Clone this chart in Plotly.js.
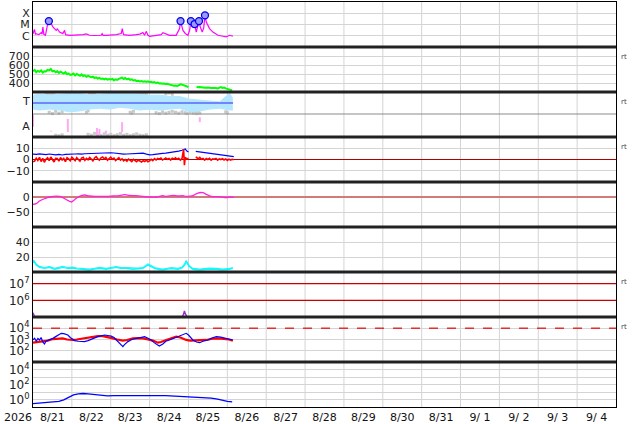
<!DOCTYPE html>
<html><head><meta charset="utf-8">
<script src="https://cdn.plot.ly/plotly-3.0.1.min.js"></script>
<style>html,body{margin:0;padding:0;background:#fff}#c{width:634px;height:424px}</style>
</head><body><div id="c"></div>
<script>
// ---- data (hours since 2026-08-21 00:00) ----
const dayLabels=['8/21','8/22','8/23','8/24','8/25','8/26','8/27','8/28','8/29','8/30','8/31','9/ 1','9/ 2','9/ 3','9/ 4'];
const xrH=[0,0.9,1.5,2.0,3.6,5.0,5.6,6.1,6.7,7.7,9.0,9.8,11,12.3,14.3,15,16.4,18.4,19.5,20.1,22.6,26,28.7,31,32.9,34.9,38,42.1,42.7,43.3,45.2,48,51.4,54.5,55.1,55.9,59.6,63.7,66,67.9,68.9,69.9,71.0,72.0,76,79.2,80.2,82,84.3,88.4,90.5,91.1,92.0,92.6,94,95.7,96.7,97.5,98.3,99.8,100.8,101.8,102.5,103.3,104.5,105.4,106.2,107.0,109.0,111.1,114.2,117.3,119.3,121.4,123.4];
const xrFlux=[1.5e-6,3.7e-6,1.4e-6,1.5e-6,1.26e-6,1.9e-6,1.4e-6,6.0e-6,1.35e-6,1.1e-6,1.0e-5,2.0e-5,1.4e-5,6.0e-6,3.0e-6,4.0e-6,2.1e-6,1.55e-6,3.0e-6,1.26e-6,1.1e-6,1.1e-6,1.1e-6,1.26e-6,1.45e-6,1.1e-6,1.05e-6,1.1e-6,1.55e-6,1.1e-6,1.1e-6,1.15e-6,1.26e-6,1.55e-6,4.3e-6,1.26e-6,1.1e-6,1.26e-6,1.4e-6,1.9e-6,1.1e-6,2.45e-6,1.1e-6,9e-7,1e-6,1.26e-6,1.9e-6,1.4e-6,1.1e-6,1.1e-6,4.3e-6,2.0e-5,6.3e-6,3.0e-6,1.6e-6,1.1e-6,3.0e-6,2.0e-5,6.0e-6,1.1e-5,2.1e-6,1.0e-5,2.0e-5,6.0e-6,2.1e-6,5e-6,6.5e-5,1.65e-5,4.3e-6,2.1e-6,1.1e-6,9e-7,7.8e-7,1.1e-6,9e-7];
const flareH=[9.8,91.1,97.5,99.8,102.5,106.2];
const flareFlux=[2.0e-5,2.0e-5,2.0e-5,1.1e-5,2.0e-5,6.5e-5];
const xrTickText=['X','M','C'];
const xrTickVals=[1e-4,1e-5,1e-6];

const swH=[0,1,2,3,4,5,6,7,8,9,10,11,12,13,14,15,16,17,18,19,20,21,22,23,24,25,26,27,28,29,30,31,32,33,34,35,36,37,38,39,40,41,42,43,44,45,46,47,48,49,50,51,52,53,54,55,56,57,58,59,60,61,62,63,64,65,66,67,68,69,70,71,72,73,74,75,76,77,78,79,80,81,82,83,84,85,86,87,88,89,90,91,92,93,94,95,96,98,101,102,103,104,105,106,107,108,109,110,111,112,113,114,115,116,117,118,119,120,121,122,123];
const swSpeed=[530,545,520,535,525,540,515,530,528,545,540,555,530,535,520,530,512,525,515,505,520,500,505,490,495,505,485,500,490,480,495,478,485,470,480,475,465,470,455,462,450,458,445,450,440,448,438,445,440,445,430,440,435,445,450,460,445,455,440,448,435,440,428,432,420,425,418,422,415,420,412,418,410,414,405,410,400,405,395,398,392,395,388,392,385,380,372,370,372,368,375,385,382,376,372,360,355,null,358,352,355,350,352,348,350,345,348,344,346,342,345,340,350,355,345,350,340,335,328,322,318];

const tLevel=0.756;
const tbH=[0,4,10.2,16.4,22.6,28.7,34.9,41,47.3,53.4,59.6,65.8,72,78.2,84.3,90.5,96.7,102.9,109,115.2,121.4,123.4];
const tbUpper=[0.93,0.95,0.93,0.95,0.97,0.97,0.93,0.95,0.97,0.99,0.99,0.95,0.93,0.93,0.90,0.90,0.84,0.82,0.80,0.78,0.97,0.85];
const tbLower=[0.62,0.60,0.62,0.60,0.56,0.58,0.62,0.64,0.62,0.66,0.64,0.60,0.62,0.60,0.62,0.64,0.56,0.58,0.62,0.64,0.60,0.60];
const grayH=[8,9,10,11,12,13,10,12,14,16,18,33,34,35,36,37,38,47,48,49,50,60,61,62,63,64,65,66,67,68,69,70,76,78,80,82,84,86,82,84,86,88,90,92,94,95,97,99,100,101,102,103,119,120];
const grayV=[0.98,0.96,0.99,0.95,0.97,0.94,0.55,0.52,0.57,0.53,0.56,0.55,0.58,0.97,0.99,0.96,0.98,0.98,0.95,0.99,0.97,0.55,0.53,0.57,0.98,0.96,0.99,0.97,0.95,0.99,0.97,0.96,0.54,0.52,0.56,0.53,0.55,0.57,0.96,0.98,0.95,0.55,0.53,0.56,0.54,0.52,0.55,0.53,0.57,0.52,0.55,0.53,0.56,0.54];
const aPinkH=[0,0,null,11.2,11.2,null,21.5,21.5,null,39.5,39.5,null,41,41,null,45,45,null,55,55,null,103,103];
const aPinkV=[0.49,0.22,null,0.14,0.12,null,0.40,0.11,null,0.20,0.02,null,0.18,0.05,null,0.14,0.08,null,0.33,0.11,null,0.44,0.33];
const aGrayH=[14,16,18,34,36,38,40,42,44,46,48,50,52,54,56,58,60,62,64,66,68,70];
const aGrayV=[0.04,0.03,0.05,0.06,0.04,0.08,0.05,0.03,0.07,0.04,0.06,0.03,0.05,0.08,0.04,0.06,0.03,0.05,0.07,0.04,0.03,0.05];

const btH=[0,2,4,6,8,10,12,14,16,18,20,22,24,26,28,30,32,34,36,38,40,42,44,46,48,50,52,54,56,58,60,62,64,66,68,70,72,74,76,78,80,82,84,86,88,90,92,93,94,95,96,97,100.5,102,104,106,108,110,112,114,116,118,120,122,124];
const btVal=[4.8,4.5,5.0,4.6,4.4,4.9,4.5,4.2,4.6,4.0,4.5,4.8,4.6,4.9,5.0,4.7,5.1,5.3,5.0,5.4,5.6,5.8,6.2,6.4,6.0,5.8,5.4,5.0,4.8,4.9,5.0,5.3,5.2,5.4,5.6,4.8,4.1,4.4,4.9,5.2,5.5,5.6,6.0,6.3,6.8,7.5,8.2,8.8,9.3,7.5,6.8,null,7.3,7.0,6.4,6.0,5.7,5.3,4.9,4.5,4.0,3.5,3.0,2.6,2.5];
const bzH=[0,1,2,3,4,5,6,7,8,9,10,11,12,13,14,15,16,17,18,19,20,21,22,23,24,25,26,27,28,29,30,31,32,33,34,35,36,37,38,39,40,41,42,43,44,45,46,47,48,49,50,51,52,53,54,55,56,57,58,59,60,61,62,63,64,65,66,67,68,69,70,71,72,73,74,75,76,77,78,79,80,81,82,83,84,85,86,87,88,89,90,91,92,93,93.5,94,95,96,97,100.5,101,102,103,104,105,106,107,108,109,110,111,112,113,114,115,116,117,118,119,120,121,122,123,124];
const bzVal=[-2.0,-1.5,1.2,-0.8,2.0,-1.8,1.0,-2.5,0.3,1.5,-1.0,2.2,0.0,-2.2,1.0,0.8,-1.5,1.8,-0.5,1.0,-2.0,1.5,0.5,-1.2,2.0,0.8,-1.0,1.6,0.2,-1.5,1.2,2.0,-0.8,1.0,-0.2,1.8,0.5,-1.2,1.4,2.5,0.6,-0.5,1.5,2.2,0.5,1.8,-0.6,1.0,2.0,0.2,1.2,-1.0,0.8,1.6,-0.5,0.6,-1.2,0.0,-1.6,0.4,-0.8,-1.8,0.2,-1.0,-2.0,-0.5,-1.5,-2.2,-1.0,-1.8,-0.6,-2.0,-1.2,0.2,-1.0,0.8,-0.4,1.0,0.2,1.2,-0.5,0.8,1.4,0.2,1.0,-0.5,1.2,0.4,1.5,0.2,1.0,-0.6,0.8,9.0,-5.0,2.0,0.5,1.0,null,1.5,2.0,0.5,1.8,0.2,1.0,-0.5,0.8,0.0,1.0,-0.6,0.5,0.2,1.0,-0.5,0.6,0.0,0.8,-0.4,0.5,-0.8,0.3,-0.5,0.2,-0.3];

const dstH=[0,2,4,7.1,10.2,16.4,18.4,21.5,23.6,25.6,28.7,31.8,34.9,39,45.2,49.3,53.4,56.5,59.6,63.7,67.9,72,76.1,80.2,82.3,86.4,89.5,92.6,94.6,98.7,101.8,104.9,107,110.1,115.2,119.3,121.4,123.9];
const dstVal=[-24.5,-22.3,-13.4,-5.6,0,2.2,-2.3,-11.2,-16.7,-8.9,2.2,6.6,3.3,2.2,2.2,3.3,4.4,7.7,5.5,4.4,2.2,0,0,4.4,2.2,5.5,3.3,4.4,2.2,4.4,13.3,14.4,8.8,2.2,1.1,-2.3,0,-1];

const cyH=[0,0.3,2,4,7.1,10.2,13.3,16,18.4,21.5,24.6,27,30.7,34.9,38,41,45.2,48,51.4,54,57.6,61.7,65,67.9,71,73,75.1,78,80.2,83,85.4,89.5,92,93.6,94.6,96.3,98.7,102.9,106,109,113.2,117.3,121.4,123.4];
const cyA=[12,15,9.3,6.2,4.9,6.2,3.6,5.0,6.2,4.9,5.3,4.2,3.6,2.7,3.8,4.9,3.6,4.4,6.2,5.0,4.9,3.6,4.0,4.9,9.3,7.5,4.9,3.4,2.7,3.8,4.5,3.6,5.5,9.3,13.8,7.5,3.6,2.7,3.5,4.0,3.6,2.7,3.6,4.9];
const cyB=[13,16,10.5,7.4,6.0,7.3,4.8,6.1,7.4,6.0,6.5,5.3,4.8,3.9,4.9,6.1,4.8,5.5,7.3,6.2,6.0,4.8,5.1,6.0,10.6,8.7,6.0,4.5,3.9,4.9,5.7,4.8,6.6,10.4,15.2,8.8,4.8,3.9,4.6,5.2,4.8,3.9,4.8,6.0];

const peH=[0,0.5,1,2,4,6,8,10,12,14,16,20,24,28,32,36,40,44,48,52,56,60,64,68,70,71,72,73,74,76,80,84,88,90,92,93,93.5,94,95,96,100,104,108,112,116,120,123];
const peFlux=[1.8e5,1.3e5,9e4,6e4,5e4,4e4,3e4,3e4,2.5e4,2e4,2e4,1.5e4,1.5e4,2e4,2e4,2.5e4,3e4,3e4,3.5e4,4e4,4e4,5e4,5e4,6e4,8e4,1.04e5,1.08e5,9e4,7e4,6e4,5e4,5e4,6e4,7e4,9e4,1.5e5,2.3e5,1.6e5,9e4,7e4,5e4,4e4,3.5e4,3e4,3e4,3e4,3e4];
const peThresholds=[1e7,1e6];

const p8H_b=[0,1,2,3,4,5,6,7.1,8,10,12.3,14,16,17.4,19,21.5,23,25.6,28,31.8,34,36.9,40,44.2,46,48.3,50,52.4,54,55.5,56.5,58.6,61,63.7,66,68.9,71,73,75,77.1,78,80.2,82,84.3,87,89.5,92,94.6,96,98.7,101,102.9,105,108,110,113.2,116,119.3,121,123.4];
const p8Blue=[910,1300,700,1260,900,1500,600,400,700,900,1260,1800,2800,3550,3300,2500,1500,800,700,650,800,1260,1800,2500,2300,2000,1500,650,400,230,350,650,1000,1260,1600,1780,1300,910,500,320,260,400,700,910,1300,1780,2500,3550,2500,910,600,520,700,910,1300,1780,1600,1260,1100,910];
const p8H_r=[0,3,6.1,9,12.3,15,18.4,21,24.6,27,30.7,34,36.9,40,43.1,46,49.3,52,55.5,58,61.7,65,67.9,71,74.1,77.1,79,82.3,85,88.4,91,94.6,97,100.8,104,107,110,113.2,116,119.3,121,123.4];
const p8Red=[520,600,650,800,1100,1200,1260,1000,910,1000,1260,1500,1780,2000,2000,1700,1260,1000,800,900,1260,1300,1260,1000,800,520,600,910,1300,1780,1500,910,800,800,850,910,1100,1260,1200,1100,1000,800];
const p8Threshold=[1e4];

const p9H=[0,4,8,12,16,19,21,23,25,28,31,34,38,42,46,50,54,58,62,66,70,74,78,82,86,90,94,98,102,106,110,114,117,120,123];
const p9Val=[0.28,0.32,0.35,0.42,0.56,0.89,1.6,2.8,4.2,5.6,6.3,5.6,4.5,3.5,3.0,3.2,3.3,3.5,3.6,3.5,3.6,3.5,3.3,3.2,2.95,2.6,2.4,2.3,2.1,2.0,1.5,1.1,0.71,0.56,0.47];

// ---- helpers ----
const T0=Date.UTC(2026,7,21);
const d=h=>h===null?null:new Date(T0+h*3600000).toISOString().slice(0,19).replace('T',' ');
const D=a=>a.map(d);
const RANGE=['2026-08-21','2026-09-05'];
const N=9;
const ax=i=>i===0?'':String(i+1);
const FONT='DejaVu Sans';
const GRID='#d4d4d4';
const noonVals=dayLabels.map((_,k)=>d(24*k+12));

const traces=[];
function add(i,o){traces.push(Object.assign({xaxis:'x'+ax(i),yaxis:'y'+ax(i),showlegend:false,hoverinfo:'skip',type:'scatter'},o));}

add(0,{x:D(xrH),y:xrFlux,mode:'lines',line:{color:'#ff00ff',width:1.2}});
add(0,{x:D(flareH),y:flareFlux,mode:'markers',marker:{symbol:'circle',size:7,color:'#9a9aff',line:{color:'#0000ee',width:1.3}}});
add(1,{x:D(swH),y:swSpeed,mode:'lines',line:{color:'#00ff00',width:2},connectgaps:false});
add(2,{x:D(grayH),y:grayV,mode:'markers',marker:{symbol:'square',size:3,color:'#c8c8c8'}});
add(2,{x:D(tbH),y:tbLower,mode:'lines',line:{color:'#b4e6ff',width:1}});
add(2,{x:D(tbH),y:tbUpper,mode:'lines',line:{color:'#b4e6ff',width:1},fill:'tonexty',fillcolor:'#b4e6ff'});
add(2,{x:D([0,123.5]),y:[tLevel,tLevel],mode:'lines',line:{color:'#5a66ff',width:1.5}});
add(2,{x:RANGE,y:[0.511,0.511],mode:'lines',line:{color:'#8a8a8a',width:1}});
add(2,{x:D(aGrayH),y:aGrayV,mode:'markers',marker:{symbol:'square',size:3,color:'#cccccc'}});
add(2,{x:D(aPinkH),y:aPinkV,mode:'lines',line:{color:'#ffaaee',width:2},connectgaps:false});
add(3,{x:D(btH),y:btVal,mode:'lines',line:{color:'#0000ff',width:1.2},connectgaps:false});
add(3,{x:D(bzH),y:bzVal,mode:'lines',line:{color:'#ff0000',width:1.6},connectgaps:false});
add(4,{x:D(dstH),y:dstVal,mode:'lines',line:{color:'#ff22dd',width:1.3,shape:'spline'}});
add(5,{x:D(cyH),y:cyB,mode:'lines',line:{color:'#40e8f0',width:1.2}});
add(5,{x:D(cyH),y:cyA,mode:'lines',line:{color:'#00ffff',width:1.4}});
peThresholds.forEach(v=>add(6,{x:RANGE,y:[v,v],mode:'lines',line:{color:'#cc0000',width:1.3}}));
add(6,{x:D(peH),y:peFlux,mode:'lines',line:{color:'#9933cc',width:1.5}});
add(7,{x:RANGE,y:[p8Threshold[0],p8Threshold[0]],mode:'lines',line:{color:'#e03030',width:1.5,dash:'dash'}});
add(7,{x:D(p8H_r),y:p8Red,mode:'lines',line:{color:'#ff0000',width:2.2}});
add(7,{x:D(p8H_b),y:p8Blue,mode:'lines',line:{color:'#0000ff',width:1.2}});
add(8,{x:D(p9H),y:p9Val,mode:'lines',line:{color:'#0000ff',width:1.3}});

const layout={width:634,height:424,margin:{l:33,r:18,t:2,b:17},paper_bgcolor:'#fff',plot_bgcolor:'#fff',
  font:{family:FONT,size:11,color:'#222'},showlegend:false,shapes:[],annotations:[]};

const supFont={family:FONT,size:12,color:'#222'};
const yCfg=[
 {type:'log',range:[-7,-3],tickvals:xrTickVals,ticktext:xrTickText},
 {range:[300,800],tickvals:[400,500,600,700]},
 {range:[0,1],tickvals:[0.8,0.244],ticktext:['T','A'],showgrid:false},
 {range:[-20,20],tickvals:[-10,0,10],zeroline:true,zerolinecolor:'#b00000',zerolinewidth:1.5},
 {range:[-100,50],tickvals:[-50,0],zeroline:true,zerolinecolor:'#d27a7a',zerolinewidth:2.5},
 {range:[0,60],tickvals:[20,40]},
 {type:'log',range:[5,7.7],tickvals:[1e6,1e7],ticktext:['10<sup>6</sup>','10<sup>7</sup>'],tickfont:supFont},
 {type:'log',range:[1,5],tickvals:[1e2,1e3,1e4],ticktext:['10<sup>2</sup>','10<sup>3</sup>','10<sup>4</sup>'],tickfont:supFont},
 {type:'log',range:[-1,5],tickvals:[1e-1,1,10,100,1e3,1e4,1e5],ticktext:['','10<sup>0</sup>','','10<sup>2</sup>','','10<sup>4</sup>',''],tickfont:supFont}
];
for(let i=0;i<N;i++){
  layout['xaxis'+ax(i)]=Object.assign({type:'date',range:RANGE,anchor:'y'+ax(i),tickmode:'array',tickvals:noonVals,ticktext:dayLabels,
    showticklabels:i===N-1,ticks:'',showgrid:false,
    showline:true,mirror:true,linecolor:'#000',linewidth:1,zeroline:false,tickfont:{family:FONT,size:11,color:'#111'},fixedrange:true},
    i?{matches:'x'}:{});
  layout['yaxis'+ax(i)]=Object.assign({domain:[1-(i+1)/N,1-i/N],anchor:'x'+ax(i),tickmode:'array',ticks:'',showgrid:true,gridcolor:GRID,gridwidth:1,
    zeroline:false,showline:true,mirror:true,linecolor:'#000',linewidth:1,tickfont:{family:FONT,size:11,color:'#222'},fixedrange:true},yCfg[i]);
}
for(let k=1;k<dayLabels.length;k++){
  layout.shapes.push({type:'line',layer:'below',xref:'x',yref:'paper',x0:d(24*k),x1:d(24*k),y0:0,y1:1,line:{color:GRID,width:1}});
}
for(let k=1;k<N;k++){
  layout.shapes.push({type:'line',xref:'paper',yref:'paper',x0:0,x1:1,y0:1-k/N,y1:1-k/N,line:{color:'#222',width:3}});
}
layout.annotations.push({xref:'paper',yref:'paper',x:-0.026,y:-0.026,text:'2026',showarrow:false,xanchor:'center',yanchor:'middle',font:{family:FONT,size:11,color:'#111'}});
[56.7,101.7,146.7,281.7,326.7].forEach(py=>{
  layout.annotations.push({xref:'paper',yref:'paper',x:(624-33)/583,y:(407-py)/405,text:'rt',showarrow:false,xanchor:'center',yanchor:'middle',font:{family:FONT,size:7,color:'#444'}});
});
Plotly.newPlot('c',traces,layout,{staticPlot:true,displayModeBar:false});
</script></body></html>
